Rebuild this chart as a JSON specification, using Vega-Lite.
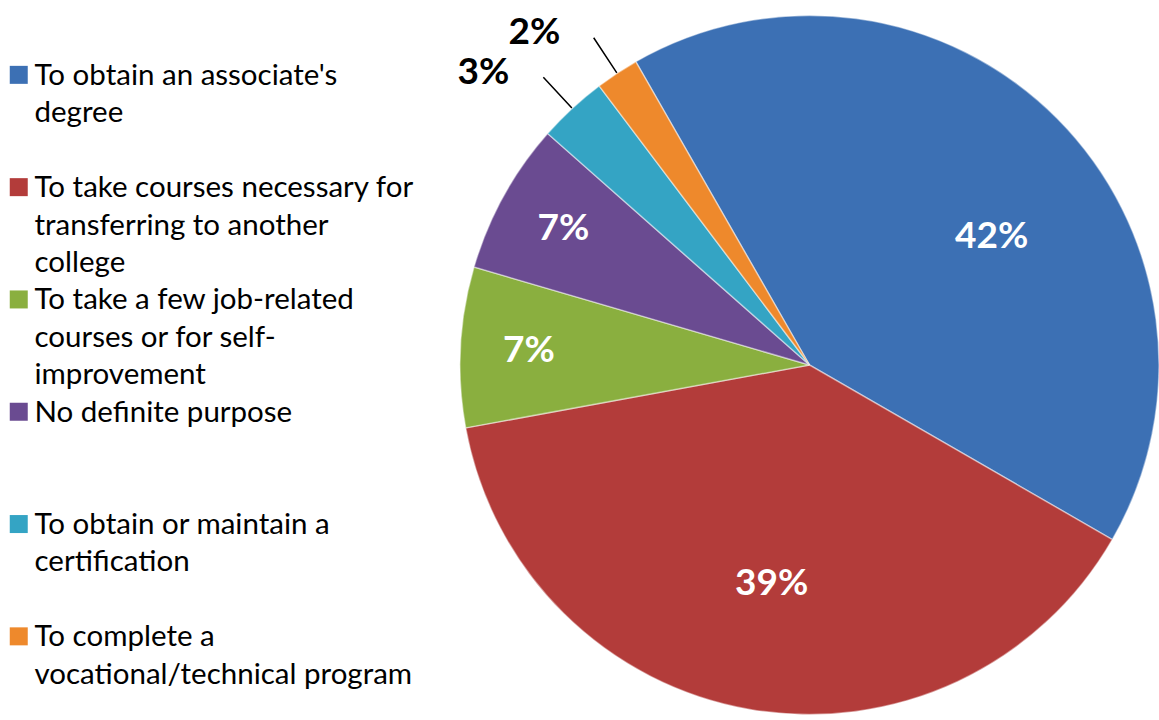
{
  "$schema": "https://vega.github.io/schema/vega-lite/v6.json",
  "width": 699,
  "height": 700,
  "autosize": {"type": "none"},
  "padding": {"left": 460, "top": 15, "right": 0, "bottom": 5},
  "background": "white",
  "config": {
    "view": {"stroke": null},
    "style": {"guide-label": {"lineHeight": 37.5}}
  },
  "data": {
    "values": [
      {"purpose": "To obtain an associate's degree", "share": 0.416, "rank": 1},
      {"purpose": "To take courses necessary for transferring to another college", "share": 0.388, "rank": 2},
      {"purpose": "To take a few job-related courses or for self-improvement", "share": 0.074, "rank": 3},
      {"purpose": "No definite purpose", "share": 0.070, "rank": 4},
      {"purpose": "To obtain or maintain a certification", "share": 0.032, "rank": 5},
      {"purpose": "To complete a vocational/technical program", "share": 0.020, "rank": 6}
    ]
  },
  "encoding": {
    "theta": {"field": "share", "type": "quantitative", "stack": true, "scale": {"range": [-0.52, 5.763]}},
    "order": {"field": "rank", "type": "quantitative"}
  },
  "layer": [
    {
      "mark": {"type": "arc", "stroke": "#ffffff", "strokeWidth": 1.5, "strokeOpacity": 0.45},
      "encoding": {
        "color": {
          "field": "purpose",
          "type": "nominal",
          "scale": {
            "domain": [
              "To obtain an associate's degree",
              "To take courses necessary for transferring to another college",
              "To take a few job-related courses or for self-improvement",
              "No definite purpose",
              "To obtain or maintain a certification",
              "To complete a vocational/technical program"
            ],
            "range": ["#3C70B4", "#B33C3A", "#8AAF3F", "#6A4B91", "#34A4C4", "#EE892C"]
          },
          "legend": {
            "orient": "none",
            "legendX": -456,
            "legendY": 55,
            "title": null,
            "padding": 0,
            "gridAlign": "all",
            "rowPadding": 6.3,
            "symbolType": "M-1,-2.1L1,-2.1L1,-0.1L-1,-0.1Z",
            "symbolSize": 324,
            "symbolStrokeWidth": 0,
            "symbolOpacity": 1,
            "labelFont": "Lato",
            "labelFontSize": 29.5,
            "labelColor": "#000000",
            "labelBaseline": "alphabetic",
            "labelOffset": 1,
            "labelLimit": 600,
            "labelExpr": "datum.value == 'To take courses necessary for transferring to another college' ? ['To take courses necessary for', 'transferring to another', 'college'] : datum.value == 'To take a few job-related courses or for self-improvement' ? ['To take a few job-related', 'courses or for self-', 'improvement'] : datum.value == 'To obtain or maintain a certification' ? ['To obtain or maintain a', 'certification'] : datum.value == 'To complete a vocational/technical program' ? ['To complete a', 'vocational/technical program'] : datum.value == 'No definite purpose' ? 'No definite purpose' : [\"To obtain an associate's\", 'degree']"
          }
        }
      }
    },
    {
      "mark": {"type": "arc", "outerRadius": 392, "innerRadius": 350, "padAngle": 1, "stroke": "#000000", "strokeWidth": 1.5, "fillOpacity": 0},
      "encoding": {
        "detail": {"field": "purpose"},
        "strokeOpacity": {"condition": {"test": "datum.share < 0.05", "value": 1}, "value": 0}
      }
    },
    {
      "mark": {"type": "text", "radius": 222, "font": "Lato", "fontWeight": "bold", "fontSize": 37, "color": "#ffffff"},
      "encoding": {
        "detail": {"field": "purpose"},
        "text": {"field": "share", "type": "quantitative", "format": ".0%"},
        "opacity": {"condition": {"test": "datum.share > 0.3 && datum.share < 0.4", "value": 1}, "value": 0}
      }
    },
    {
      "mark": {"type": "text", "radius": 222, "dx": 25, "dy": 29, "font": "Lato", "fontWeight": "bold", "fontSize": 37, "color": "#ffffff"},
      "encoding": {
        "detail": {"field": "purpose"},
        "text": {"field": "share", "type": "quantitative", "format": ".0%"},
        "opacity": {"condition": {"test": "datum.share >= 0.4", "value": 1}, "value": 0}
      }
    },
    {
      "mark": {"type": "text", "radius": 281, "font": "Lato", "fontWeight": "bold", "fontSize": 37, "color": "#ffffff"},
      "encoding": {
        "detail": {"field": "purpose"},
        "text": {"field": "share", "type": "quantitative", "format": ".0%"},
        "opacity": {"condition": {"test": "datum.share >= 0.05 && datum.share < 0.3", "value": 1}, "value": 0}
      }
    },
    {
      "mark": {"type": "text", "radius": 398, "dx": -30, "align": "right", "font": "Lato", "fontWeight": "bold", "fontSize": 37, "color": "#000000"},
      "encoding": {
        "detail": {"field": "purpose"},
        "text": {"field": "share", "type": "quantitative", "format": ".0%"},
        "opacity": {"condition": {"test": "datum.share < 0.05", "value": 1}, "value": 0}
      }
    }
  ]
}
